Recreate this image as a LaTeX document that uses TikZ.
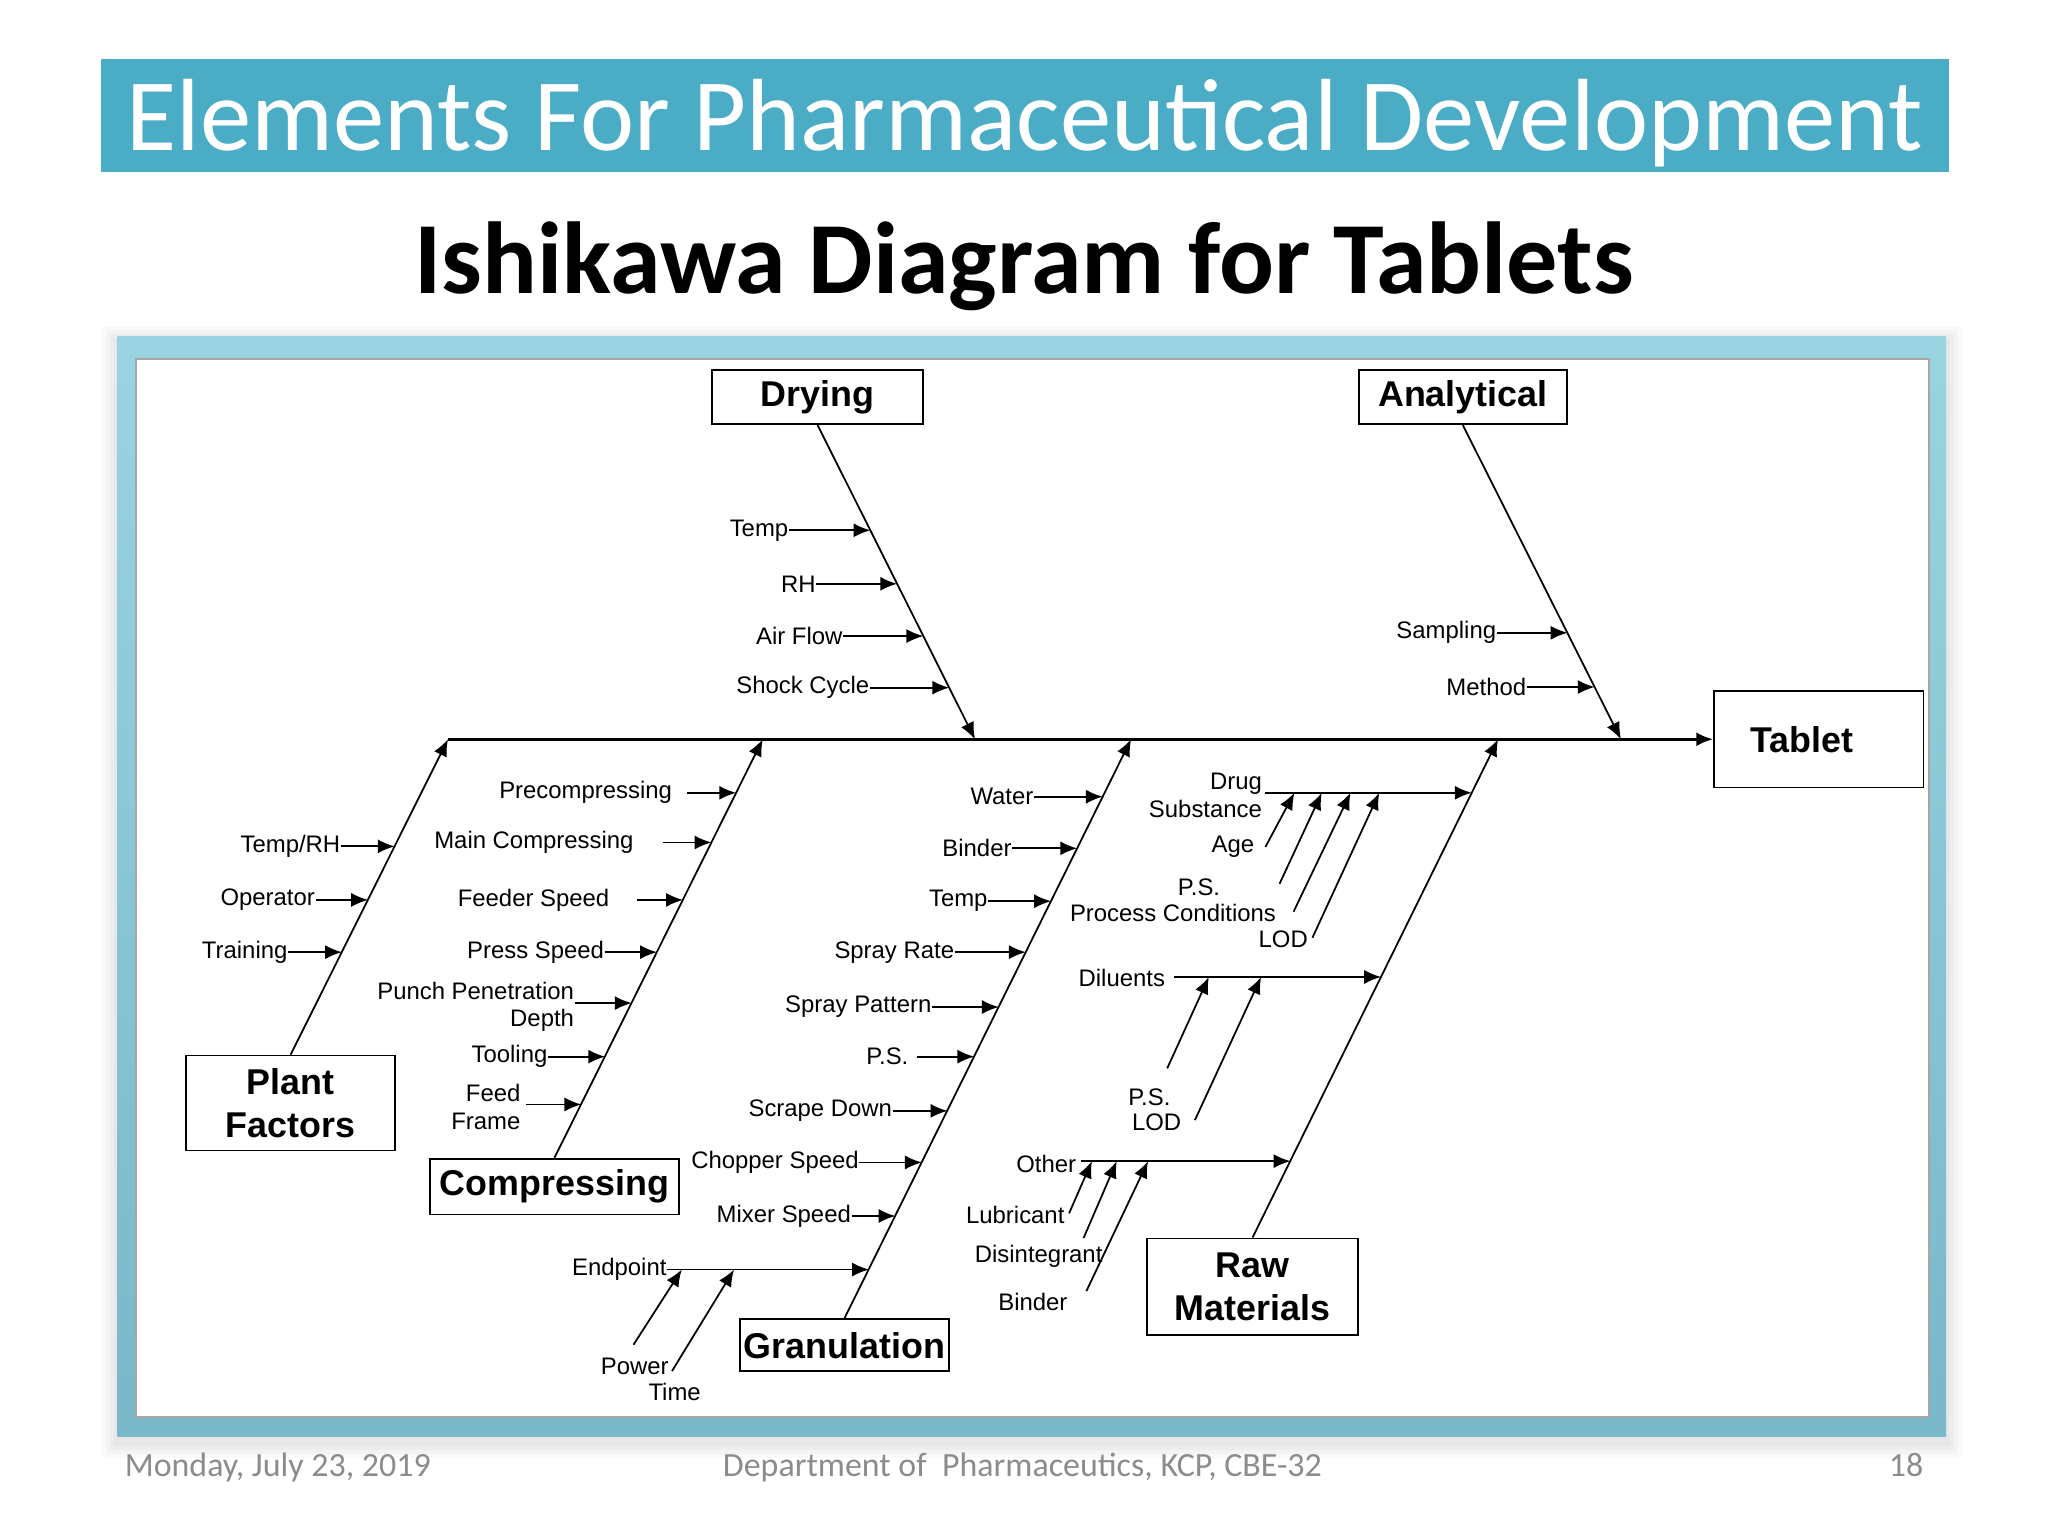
\documentclass[tikz,border=0pt]{standalone}
\usepackage{fontspec}
\setmainfont{Liberation Sans}
\newfontfamily\slidefont{Carlito}
\usetikzlibrary{arrows.meta,calc}

\definecolor{bannerblue}{HTML}{4BACC6}
\definecolor{framelight}{HTML}{9AD3E1}
\definecolor{framedark}{HTML}{78B8C8}
\definecolor{footgray}{HTML}{8C8C8C}

\begin{document}
\begin{tikzpicture}[x=0.130612mm, y=-0.130612mm,
  cause/.style={draw, line width=0.5pt, font=\bfseries\fontsize{10.2}{12.2}\selectfont, align=center, inner sep=0pt},
  item/.style={font=\fontsize{6.8}{7.8}\selectfont, inner sep=0pt, align=right},
  bone/.style={line width=0.5pt, -{Latex[length=4.8pt,width=4pt]}},
  foot/.style={text=footgray, font=\slidefont\fontsize{9.65}{11}\selectfont, inner sep=0pt},
]
\useasboundingbox (0,0) rectangle (1568,1176);
\fill[white] (0,0) rectangle (1568,1176);

% slide title
\fill[bannerblue] (77,45) rectangle (1492,132);
\node[anchor=base, text=white, font=\slidefont\fontsize{29.2}{34}\selectfont] (title) at (784.5,115.5) {Elements For Pharmaceutical Development};
\node[anchor=base, font=\slidefont\bfseries\fontsize{29.1}{34}\selectfont] (subtitle) at (784,224.6) {Ishikawa Diagram for Tablets};

% picture frame
\foreach \s in {12,9,6,3}
  \fill[black, opacity=0.025] (90-\s,258-\s+4) rectangle (1490+\s,1100+\s+4);
\shade[top color=framelight, bottom color=framedark] (90,258) rectangle (1490,1100);
\fill[white] (104,275) rectangle (1477,1085);
\draw[gray!70, line width=0.6pt] (104,275) rectangle (1477,1085);

% footer
\node[foot, anchor=base west] (date) at (95,1130.6) {Monday, July 23, 2019};
\node[foot, anchor=base west] (dept) at (553,1130.6) {Department of\ \ Pharmaceutics, KCP, CBE-32};
\node[foot, anchor=base east] (page) at (1473,1130.6) {18};

% cause boxes
\node[cause, minimum width=60pt, minimum height=15.5pt] (dry) at (626,304) {Drying};
\node[cause, minimum width=59.2pt, minimum height=15.5pt] (ana) at (1120,304) {Analytical};
\node[cause, minimum height=27.4pt, text width=38.8pt, inner xsep=10.4pt, align=left] (tab) at (1392.5,566) {Tablet};
\node[cause, minimum width=59.6pt, minimum height=27pt] (plant) at (222.5,844.5) {Plant\\Factors};
\node[cause, minimum width=70.7pt, minimum height=15.9pt] (comp) at (424.5,908.5) {Compressing};
\node[cause, minimum width=59.6pt, minimum height=14.8pt] (gran) at (646.5,1030) {Granulation};
\node[cause, minimum width=60pt, minimum height=27.4pt] (raw) at (959,985) {Raw\\Materials};

% spine and bones
\coordinate (tail) at (343,566);
\coordinate (hdry) at (746.5,566);
\coordinate (hana) at (1241,566);
\coordinate (hcomp) at (584,566);
\coordinate (hgran) at (866,566);
\coordinate (hraw) at (1147,566);
\draw[bone, line width=0.8pt] (tail) -- (tab.west);
\draw[bone] (dry.south) -- (hdry);
\draw[bone] (ana.south) -- (hana);
\draw[bone] (plant.north) -- (tail);
\draw[bone] (comp.north) -- (hcomp);
\draw[bone] (gran.north) -- (hgran);
\draw[bone] (raw.north) -- (hraw);

% drying
\foreach \n/\y/\x/\b/\t in {1/406/604/666.4/Temp, 2/447/625/686.9/RH,
    3/487/645.5/706.9/Air Flow, 4/526.5/666/726.7/Shock Cycle}{
  \node[item, anchor=east] (dry\n) at (\x,\y) {\t};
  \coordinate (dryb\n) at (\b,\y);
  \draw[bone] (dry\n) -- (dryb\n);
}

% analytical
\foreach \n/\y/\x/\b/\t in {1/484.5/1146/1200.1/Sampling, 2/526/1169/1220.9/Method}{
  \node[item, anchor=east] (ana\n) at (\x,\y) {\t};
  \coordinate (anab\n) at (\b,\y);
  \draw[bone] (ana\n) -- (anab\n);
}

% plant factors
\foreach \n/\y/\x/\b/\t in {1/648/261/302.2/{Temp/RH}, 2/689/241.6/281.8/Operator,
    3/729/220.6/261.8/Training}{
  \node[item, anchor=east] (pl\n) at (\x,\y) {\t};
  \coordinate (plb\n) at (\b,\y);
  \draw[bone] (pl\n) -- (plb\n);
}

% compressing
\foreach \n/\y/\x/\g/\b/\t in {1/607/515/11/563.6/Precompressing,
    2/645/485.6/22/544.7/Main Compressing, 3/689/467/21/522.9/Feeder Speed,
    4/729/463/0/503/Press Speed, 6/809/419.6/0/463.3/Tooling}{
  \node[item, anchor=east] (cp\n) at (\x,\y) {\t};
  \coordinate (cpb\n) at (\b,\y);
  \draw[bone] ($(cp\n.east)+(\g,0)$) -- (cpb\n);
}
\node[item, anchor=east] (punch) at (440,771) {Punch Penetration\\Depth};
\coordinate (cpb5) at (483.6,768);
\draw[bone] (punch.east |- cpb5) -- (cpb5);
\node[item, anchor=east] (feed) at (399,847.5) {Feed\\Frame};
\coordinate (cpb7) at (445.1,845.6);
\draw[bone] ($(feed.east |- cpb7)+(4,0)$) -- (cpb7);

% granulation
\foreach \n/\y/\x/\g/\b/\t in {1/610/791.7/0/844.3/Water, 2/649.5/775/0/824.7/Binder,
    3/690/756.6/0/804.7/Temp, 4/729/731/0/785.4/Spray Rate,
    5/771/713.6/0/764.7/Spray Pattern, 6/809/696/6/745.9/P.S.,
    7/850.5/683.5/0/725.4/Scrape Down, 8/890/658/0/705.8/Chopper Speed,
    9/931/652/0/685.6/Mixer Speed, 10/972/510.8/0/665.3/Endpoint}{
  \node[item, anchor=east] (gr\n) at (\x,\y) {\t};
  \coordinate (grb\n) at (\b,\y);
  \draw[bone] ($(gr\n.east)+(\g,0)$) -- (grb\n);
}
\node[item] (pow) at (486,1046.5) {Power};
\node[item] (tim) at (516.5,1066) {Time};
\coordinate (ep1) at (522,972);
\coordinate (ep2) at (562,972);
\draw[bone] ($(pow.north)+(-1,-10)$) -- (ep1);
\draw[bone] ($(tim.north)+(-2,-9)$) -- (ep2);

% raw materials
\node[item, anchor=east] (drug) at (966.7,609) {Drug\\Substance};
\coordinate (rmb1) at (1126.8,607);
\draw[bone] ($(drug.east |- rmb1)+(2,0)$) -- (rmb1);
\node[item, anchor=east] (age) at (960.8,648.5) {Age};
\node[item] (ps1) at (918,679.7) {P.S.};
\node[item, anchor=east] (proc) at (977.4,699) {Process Conditions};
\node[item, anchor=east] (lod1) at (1001.8,719) {LOD};
\coordinate (dg1) at (991,607);
\coordinate (dg2) at (1012,607);
\coordinate (dg3) at (1034,607);
\coordinate (dg4) at (1056,607);
\draw[bone] ($(age.east)+(8,0)$) -- (dg1);
\draw[bone] ($(ps1.east)+(45,-3)$) -- (dg2);
\draw[bone] ($(proc.east)+(13,-1)$) -- (dg3);
\draw[bone] ($(lod1.east)+(3,-1)$) -- (dg4);

\node[item, anchor=east] (dil) at (892.5,748.6) {Diluents};
\coordinate (rmb2) at (1057.4,748);
\draw[bone] ($(dil.east |- rmb2)+(6,0)$) -- (rmb2);
\node[item] (ps2) at (880,840) {P.S.};
\node[item] (lod2) at (885.5,859.6) {LOD};
\coordinate (dl1) at (925.5,748);
\coordinate (dl2) at (965.5,748);
\draw[bone] ($(ps2.north east)+(-3,-15)$) -- (dl1);
\draw[bone] ($(lod2.east)+(10,-2)$) -- (dl2);

\node[item, anchor=east] (oth) at (824.4,890.8) {Other};
\coordinate (rmb3) at (988,889);
\draw[bone] ($(oth.east |- rmb3)+(3,0)$) -- (rmb3);
\node[item, anchor=east] (lub) at (815.5,930) {Lubricant};
\node[item, anchor=east] (dis) at (844.6,962) {Disintegrant};
\node[item, anchor=east] (bnd) at (817.8,996.7) {Binder};
\coordinate (ot1) at (836,889);
\coordinate (ot2) at (855,889);
\coordinate (ot3) at (879,889);
\draw[bone] ($(lub.east)+(3,-1)$) -- (ot1);
\draw[bone] ($(dis.north east)+(-15,-5)$) -- (ot2);
\draw[bone] ($(bnd.north east)+(14,-1)$) -- (ot3);

\end{tikzpicture}
\end{document}
